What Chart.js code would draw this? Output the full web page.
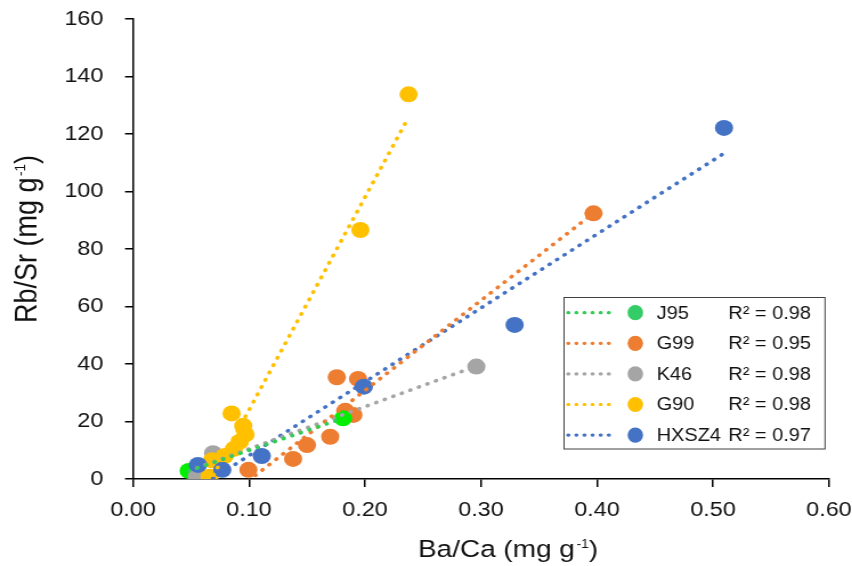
<!DOCTYPE html>
<html><head><meta charset="utf-8">
<script src="https://cdn.jsdelivr.net/npm/chart.js@4/dist/chart.umd.min.js"></script>
<style>
html,body{margin:0;padding:0;background:#fff;overflow:hidden}
#wrap{width:747px;height:566px;transform:scaleX(1.1406);transform-origin:0 0}
</style>
</head><body><div id="wrap"><canvas id="c" width="747" height="566"></canvas></div>
<script>
// ---- data ----
const seriesNames = ['J95', 'G99', 'K46', 'G90', 'HXSZ4'];
const rSquaredLabels = ['R\u00b2 = 0.98', 'R\u00b2 = 0.95', 'R\u00b2 = 0.98', 'R\u00b2 = 0.98', 'R\u00b2 = 0.97'];
const xTickValues = [0, 0.1, 0.2, 0.3, 0.4, 0.5, 0.6];
const yTickValues = [0, 20, 40, 60, 80, 100, 120, 140, 160];
const xTitle = ['Ba/Ca (mg g', '-1', ')'];
const yTitle = ['Rb/Sr (mg g', '-1', ')'];

const j95X = [0.048, 0.181];
const j95Y = [2.8, 21.1];
const g99X = [0.0995, 0.138, 0.150, 0.170, 0.1757, 0.183, 0.190, 0.194, 0.397];
const g99Y = [3.2, 7.0, 11.8, 14.7, 35.4, 23.7, 22.3, 34.8, 92.4];
const k46X = [0.055, 0.069, 0.296];
const k46Y = [1.0, 9.0, 39.1];
const g90X = [0.085, 0.095, 0.097, 0.092, 0.087, 0.079, 0.068, 0.066, 0.196, 0.2376];
const g90Y = [22.8, 18.5, 15.5, 13.0, 10.5, 8.0, 6.5, 0.8, 86.6, 133.8];
const hxX = [0.056, 0.077, 0.111, 0.199, 0.329, 0.5095];
const hxY = [4.9, 3.2, 8.0, 32.1, 53.6, 122.1];

// ---- styles ----
const markerColors = ['#00ee00', '#ED7D31', '#A5A5A5', '#FFC000', '#4472C4'];
const legendMarkerColors = ['#33CC66', '#ED7D31', '#A5A5A5', '#FFC000', '#4472C4'];
const lineColors = ['#33CC55', '#ED7D31', '#A5A5A5', '#FFC000', '#4472C4'];
const markerOrder = [4, 5, 3, 2, 1];
const FONT = "'Liberation Sans', Arial, sans-serif";
const TEXT = '#111';
const DASH = [0.5, 7.6];
const LINE_W = 3.6;

function linfit(xs, ys) {
  const n = xs.length;
  const mx = xs.reduce((a, b) => a + b, 0) / n;
  const my = ys.reduce((a, b) => a + b, 0) / n;
  let sxy = 0, sxx = 0;
  for (let i = 0; i < n; i++) { sxy += (xs[i] - mx) * (ys[i] - my); sxx += (xs[i] - mx) ** 2; }
  const b = sxy / sxx;
  return { b, a: my - b * mx };
}

const allX = [j95X, g99X, k46X, g90X, hxX];
const allY = [j95Y, g99Y, k46Y, g90Y, hxY];
const datasets = [];
allX.forEach((xs, i) => {
  const ys = allY[i];
  datasets.push({
    label: seriesNames[i],
    data: xs.map((x, k) => ({ x, y: ys[k] })),
    pointStyle: 'circle',
    pointRadius: 8,
    pointBorderWidth: 0,
    backgroundColor: markerColors[i],
    borderColor: markerColors[i],
    showLine: false,
    order: markerOrder[i]
  });
});
allX.forEach((xs, i) => {
  const f = linfit(xs, allY[i]);
  const x0 = Math.min(...xs), x1 = Math.max(...xs);
  datasets.push({
    label: seriesNames[i] + ' trend',
    data: [{ x: x0, y: f.a + f.b * x0 }, { x: x1, y: f.a + f.b * x1 }],
    showLine: true,
    pointRadius: 0,
    borderColor: lineColors[i],
    borderWidth: LINE_W,
    borderDash: DASH,
    borderCapStyle: 'round',
    fill: false,
    order: 0
  });
});

function drawSupText(ctx, parts, size, supSize, supRaise) {
  ctx.font = size + 'px ' + FONT;
  const w1 = ctx.measureText(parts[0]).width;
  const w3 = ctx.measureText(parts[2]).width;
  ctx.font = supSize + 'px ' + FONT;
  const w2 = ctx.measureText(parts[1]).width;
  const gap = 1.5;
  const total = w1 + gap + w2 + w3;
  let x = -total / 2;
  ctx.textAlign = 'left';
  ctx.textBaseline = 'alphabetic';
  ctx.font = size + 'px ' + FONT;
  ctx.fillText(parts[0], x, 0);
  x += w1 + gap;
  ctx.font = supSize + 'px ' + FONT;
  ctx.fillText(parts[1], x, -supRaise);
  x += w2;
  ctx.font = size + 'px ' + FONT;
  ctx.fillText(parts[2], x, 0);
}

const titlesPlugin = {
  id: 'axisTitles',
  afterDraw(chart) {
    const ctx = chart.ctx;
    ctx.save();
    ctx.fillStyle = TEXT;
    // x title
    ctx.save();
    ctx.translate(445.4, 548 + 0.358 * 24.5);
    drawSupText(ctx, xTitle, 24.5, 12, 8.3);
    ctx.restore();
    // y title
    ctx.save();
    ctx.translate(21.9, 239);
    ctx.rotate(-Math.PI / 2);
    ctx.translate(0, 0.358 * 27);
    drawSupText(ctx, yTitle, 27, 13.5, 9.3);
    ctx.restore();
    ctx.restore();
  }
};

const legendPlugin = {
  id: 'customLegend',
  afterDraw(chart) {
    const ctx = chart.ctx;
    const bx = 494.5, by = 297.5, bw = 228.8, bh = 151.5;
    ctx.save();
    ctx.fillStyle = '#fff';
    ctx.fillRect(bx, by, bw, bh);
    ctx.strokeStyle = '#404040';
    ctx.lineWidth = 1;
    ctx.strokeRect(bx, by, bw, bh);
    ctx.font = '17.5px ' + FONT;
    ctx.textBaseline = 'middle';
    seriesNames.forEach((name, i) => {
      const y = 312.7 + i * 30.6;
      ctx.strokeStyle = lineColors[i];
      ctx.lineWidth = 3.2;
      ctx.lineCap = 'round';
      ctx.setLineDash([0.5, 6.6]);
      ctx.beginPath(); ctx.moveTo(498, y); ctx.lineTo(537.4, y); ctx.stroke();
      ctx.setLineDash([]);
      ctx.fillStyle = legendMarkerColors[i];
      ctx.beginPath(); ctx.ellipse(557, y, 6.8, 7.6, 0, 0, Math.PI * 2); ctx.fill();
      ctx.fillStyle = TEXT;
      ctx.textAlign = 'left';
      ctx.fillText(name, 575.7, y + 1);
      ctx.fillText(rSquaredLabels[i], 638.5, y + 1);
    });
    ctx.restore();
  }
};

new Chart(document.getElementById('c'), {
  type: 'scatter',
  data: { datasets },
  plugins: [legendPlugin, titlesPlugin],
  options: {
    responsive: false,
    animation: false,
    devicePixelRatio: 1,
    layout: { padding: { top: 19, right: 20.2, left: 0, bottom: 0 } },
    plugins: { legend: { display: false }, tooltip: { enabled: false } },
    scales: {
      x: {
        type: 'linear', min: 0, max: 0.6,
        afterBuildTicks: s => { s.ticks = xTickValues.map(v => ({ value: v })); },
        afterFit: s => { s.height = 87; s.paddingLeft = 0; s.paddingRight = 0; },
        grid: { drawOnChartArea: false, drawTicks: true, tickLength: 8, color: '#000', lineWidth: 1.5 },
        border: { display: true, color: '#000', width: 1.6 },
        ticks: { color: TEXT, font: { family: FONT, size: 20.5 }, padding: 11, callback: v => Number(v).toFixed(2), maxRotation: 0, autoSkip: false },
        title: { display: false }
      },
      y: {
        type: 'linear', min: 0, max: 160,
        afterBuildTicks: s => { s.ticks = yTickValues.map(v => ({ value: v })); },
        afterFit: s => { s.width = 116.6; s.paddingTop = 0; s.paddingBottom = 0; },
        grid: { drawOnChartArea: false, drawTicks: true, tickLength: 7, color: '#000', lineWidth: 1.5 },
        border: { display: true, color: '#000', width: 1.5 },
        ticks: { color: TEXT, font: { family: FONT, size: 20.5 }, padding: 19, autoSkip: false },
        title: { display: false }
      }
    }
  }
});
</script></body></html>
